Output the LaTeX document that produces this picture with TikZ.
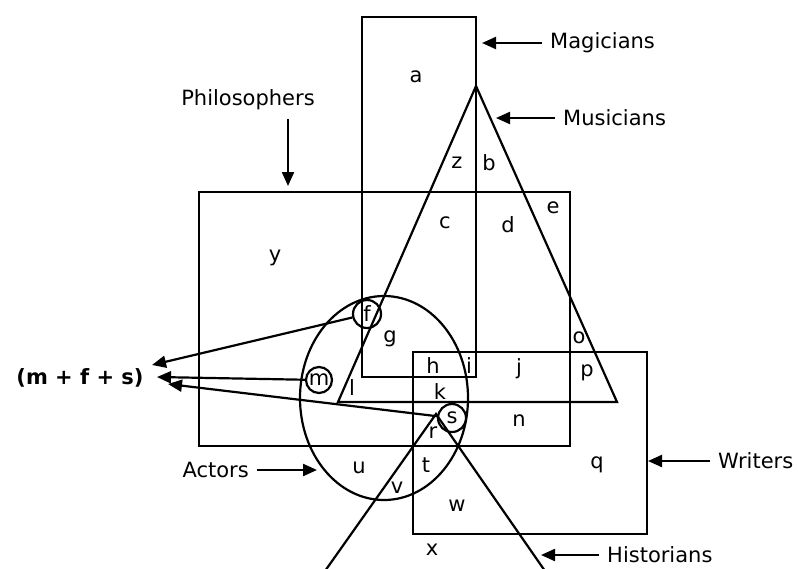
\documentclass[tikz,border=0pt]{standalone}
\usepackage{fontspec}
\setmainfont{DejaVu Sans}
\usetikzlibrary{arrows.meta, positioning, calc}

\begin{document}
\begin{tikzpicture}[
  x=1pt, y=-1pt,
  set/.style={draw, line width=2.2pt},
  letter/.style={font=\fontsize{21}{24}\selectfont, inner sep=0pt},
  setname/.style={font=\fontsize{21}{24}\selectfont, inner xsep=8pt, inner ysep=1pt},
  ring/.style={draw, circle, line width=2.2pt, minimum size=28pt, inner sep=0pt,
               font=\fontsize{21}{24}\selectfont},
  pointer/.style={-{Triangle[length=14pt,width=12pt]}, line width=2.2pt}
]
  \useasboundingbox (0,0) rectangle (799,568);

  %% Sets
  \draw[set] (362,17) rectangle (476,377);                  % magicians
  \draw[set] (476,86) -- (338,402) -- (617,402) -- cycle;   % musicians
  \draw[set] (199,192) rectangle (570,446);                 % philosophers
  \draw[set] (413,352) rectangle (647,534);                 % writers
  \draw[set] (384,398) ellipse [x radius=84, y radius=102]; % actors
  \draw[set] (325,571) -- (436,414) -- (545,571);           % historians

  %% Circled regions
  \node[ring] (f) at (367,314) {f};
  \node[ring, minimum size=26pt] (m) at (319,380) {m};
  \node[ring] (s) at (452,418) {s};

  %% Region letters
  \node[letter] (la) at (416,77) {a};
  \node[letter] (lz) at (457,163) {z};
  \node[letter] (lb) at (489,163) {b};
  \node[letter] (lc) at (445,223) {c};
  \node[letter] (ld) at (508,225) {d};
  \node[letter] (le) at (553,208) {e};
  \node[letter] (ly) at (275,258) {y};
  \node[letter] (lg) at (390,339) {g};
  \node[letter] (lh) at (433,366) {h};
  \node[letter] (li) at (469,366) {i};
  \node[letter] (lj) at (519,369) {j};
  \node[letter] (lo) at (579,338) {o};
  \node[letter] (lp) at (587,373) {p};
  \node[letter] (lk) at (440,392) {k};
  \node[letter] (ll) at (352,388) {l};
  \node[letter] (ln) at (519,421) {n};
  \node[letter] (lr) at (433,433) {r};
  \node[letter] (lt) at (426,465) {t};
  \node[letter] (lu) at (359,468) {u};
  \node[letter] (lq) at (597,465) {q};
  \node[letter] (lv) at (397,488) {v};
  \node[letter] (lw) at (457,506) {w};
  \node[letter] (lx) at (432,550) {x};

  %% Set names
  \node[setname, anchor=west] (magicians) at (542,43) {Magicians};
  \node[setname, anchor=west] (musicians) at (555,118) {Musicians};
  \node[setname] (philosophers) at (248,100) {Philosophers};
  \node[setname, anchor=west] (writers) at (710,461) {Writers};
  \node[setname, anchor=east] (actors) at (257,470) {Actors};
  \node[setname, anchor=west] (historians) at (599,555) {Historians};
  \node[font=\fontsize{21}{24}\selectfont\bfseries, inner sep=0pt] (mfs) at (80,378) {(m + f + s)};

  \coordinate (magTip) at (482,43);
  \coordinate (musTip) at (496,118);
  \coordinate (philTip) at (288,186);
  \coordinate (wriTip) at (648,461);
  \coordinate (actTip) at (317,470);
  \coordinate (hisTip) at (541,555);
  \coordinate (tipF) at (152,365);
  \coordinate (tipM) at (157,377);
  \coordinate (tipS) at (168,384);

  %% Pointers
  \draw[pointer] (magicians) -- (magTip);
  \draw[pointer] (musicians) -- (musTip);
  \draw[pointer, shorten <=8pt] (philTip |- philosophers.south) -- (philTip);
  \draw[pointer] (writers) -- (wriTip);
  \draw[pointer] (actors) -- (actTip);
  \draw[pointer] (historians) -- (hisTip);
  \draw[pointer] (f) -- (tipF);
  \draw[pointer] (m) -- (tipM);
  \draw[pointer] (s) -- (tipS);
\end{tikzpicture}
\end{document}
